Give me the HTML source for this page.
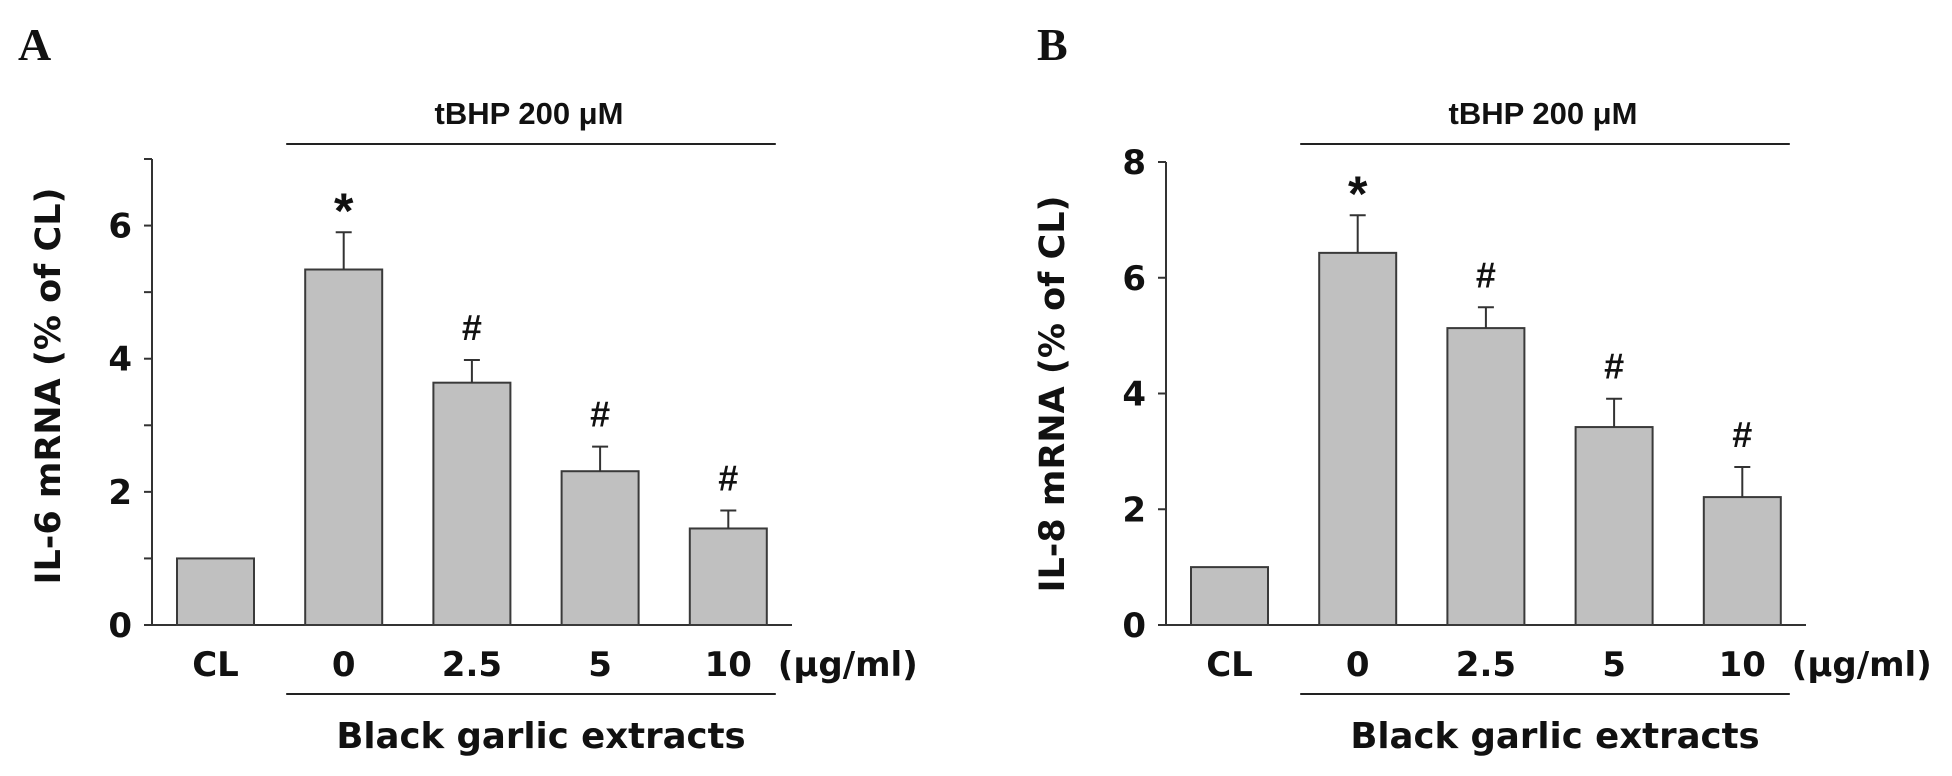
<!DOCTYPE html>
<html><head><meta charset="utf-8">
<style>
html,body{margin:0;padding:0;background:#fff;}
svg{display:block;}
text{font-family:"DejaVu Sans","Liberation Sans",Arial,sans-serif;font-weight:bold;fill:#111;}
.pl{font-family:"Liberation Serif","Times New Roman",serif;}
.ls{font-family:"Liberation Sans",Arial,sans-serif;}
</style></head>
<body>
<svg id="chart" width="1952" height="776" viewBox="0 0 1952 776" xmlns="http://www.w3.org/2000/svg">
<text class="pl" x="18" y="60" font-size="46">A</text>
<text class="pl" x="1037" y="60" font-size="46">B</text>
</svg>
<script>
const categories = ["CL", "0", "2.5", "5", "10"];
const il6Values = [1.0, 5.34, 3.64, 2.31, 1.45];
const il6Errors = [0, 0.56, 0.34, 0.37, 0.27];
const il6Marks = ["", "*", "#", "#", "#"];
const il6Ticks = [0, 2, 4, 6];
const il8Values = [1.0, 6.43, 5.13, 3.42, 2.21];
const il8Errors = [0, 0.65, 0.36, 0.49, 0.52];
const il8Marks = ["", "*", "#", "#", "#"];
const il8Ticks = [0, 2, 4, 6, 8];

const NS = "http://www.w3.org/2000/svg";
const svg = document.getElementById("chart");
function mk(tag, attrs, parent) {
  const e = document.createElementNS(NS, tag);
  for (const k in attrs) e.setAttribute(k, attrs[k]);
  (parent || svg).appendChild(e);
  return e;
}

function panel(cfg) {
  const g = mk("g", {});
  
  
  const y0 = 625, yTopPx = cfg.yTopPx, yMax = cfg.yMax;
  const y = v => y0 - (v / yMax) * (y0 - yTopPx);
  const ax = cfg.axisX;
  const barW = 77, step = 128.2;
  const bx = i => cfg.firstBarX + i * step;

  const yAxis = mk("line", {x1: ax, y1: yTopPx, x2: ax, y2: y0, stroke: "#333", "stroke-width": 2}, g);
  
  
  const xAxis = mk("line", {x1: ax - 8, y1: y0, x2: cfg.baseEnd, y2: y0, stroke: "#333", "stroke-width": 2}, g);
  
  

  cfg.minor.forEach(v => {
    const t = mk("line", {x1: ax - 8, y1: y(v), x2: ax, y2: y(v), stroke: "#333", "stroke-width": 2}, g);
    
    
  });
  cfg.ticks.forEach(v => {
    const t = mk("line", {x1: ax - 8, y1: y(v), x2: ax, y2: y(v), stroke: "#333", "stroke-width": 2}, g);
    
    
    const l = mk("text", {x: cfg.tickRight, y: y(v) + 12, "font-size": 34, "text-anchor": "end"}, g);
    l.textContent = v;
    
    
  });

  categories.forEach((c, i) => {
    const v = cfg.values[i], e = cfg.errors[i];
    const x = bx(i), cx = x + barW / 2;
    const r = mk("rect", {x: x, y: y(v), width: barW, height: y0 - y(v), fill: "#c0c0c0", stroke: "#3a3a3a", "stroke-width": 2}, g);
    
    
    if (e > 0) {
      const el = mk("line", {x1: cx, y1: y(v), x2: cx, y2: y(v + e), stroke: "#333", "stroke-width": 2}, g);
      
      
      const cap = mk("line", {x1: cx - 8, y1: y(v + e), x2: cx + 8, y2: y(v + e), stroke: "#333", "stroke-width": 2}, g);
      
      
    }
    if (cfg.marks[i]) {
      const m = cfg.marks[i];
      const s = mk("text", {x: cx, y: y(v + e) - (m === "*" ? 4 : 20), "font-size": m === "*" ? 50 : 36, "text-anchor": "middle", "class": "ls", "font-weight": m === "*" ? "bold" : "normal"}, g);
      s.textContent = m;
      
      
    }
    const lab = mk("text", {x: cx, y: 676, "font-size": 34, "text-anchor": "middle"}, g);
    lab.textContent = c;
    
    
  });

  const lineL = bx(1) - 19, lineR = bx(4) + barW + 9;
  const tl = mk("line", {x1: lineL, y1: 144, x2: lineR, y2: 144, stroke: "#222", "stroke-width": 2}, g);
  
  
  const tt = mk("text", {x: (lineL + lineR) / 2 - 2, y: 124, "font-size": 31, "text-anchor": "middle", "class": "ls"}, g);
  tt.textContent = "tBHP 200 μM";
  
  
  const bl = mk("line", {x1: lineL, y1: 694, x2: lineR, y2: 694, stroke: "#222", "stroke-width": 2}, g);
  
  
  const bt = mk("text", {x: (lineL + lineR) / 2 + 10, y: 748, "font-size": 35.5, "text-anchor": "middle"}, g);
  bt.textContent = "Black garlic extracts";
  
  
  const un = mk("text", {x: lineR + 2, y: 676, "font-size": 34}, g);
  un.textContent = "(μg/ml)";
  
  

  const yl = mk("text", {x: 0, y: 0, "font-size": 35, "text-anchor": "middle", transform: "translate(" + (cfg.ylabX) + "," + cfg.ylabY + ") rotate(-90)"}, g);
  yl.textContent = cfg.ylabel;
  
  
}

panel({name: "panel-a-il6", axisX: 152, firstBarX: 177, yTopPx: 159, yMax: 7,
  ticks: il6Ticks, minor: [1, 3, 5, 7], values: il6Values, errors: il6Errors, marks: il6Marks,
  baseEnd: 792, tickRight: 132, ylabX: 60, ylabY: 386, ylabel: "IL-6 mRNA (% of CL)"});
panel({name: "panel-b-il8", axisX: 1166, firstBarX: 1191, yTopPx: 162, yMax: 8,
  ticks: il8Ticks, minor: [], values: il8Values, errors: il8Errors, marks: il8Marks,
  baseEnd: 1806, tickRight: 1146, ylabX: 1064, ylabY: 394, ylabel: "IL-8 mRNA (% of CL)"});
</script>
</body></html>
